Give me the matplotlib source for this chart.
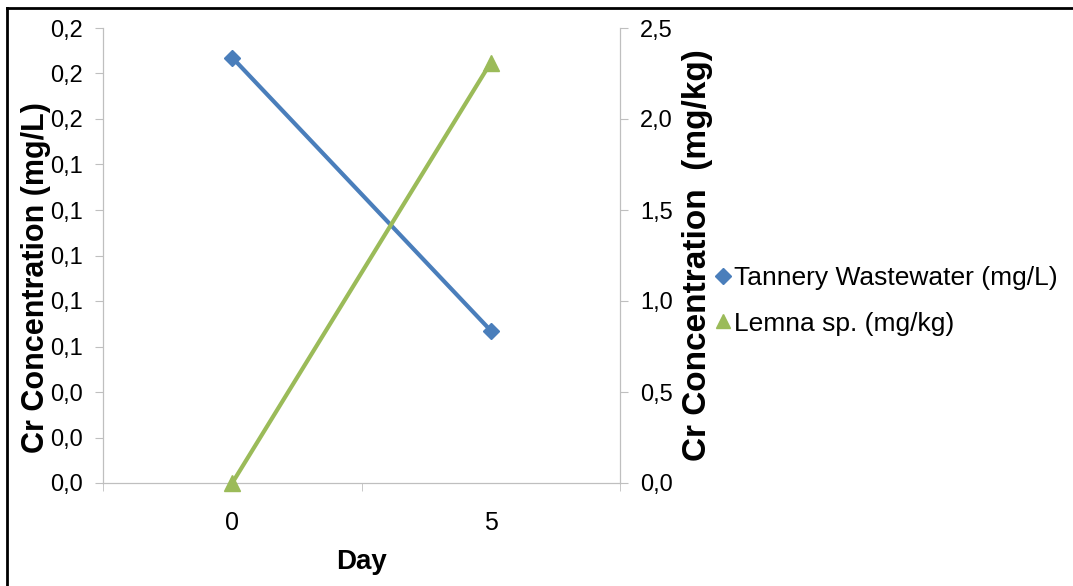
import matplotlib.pyplot as plt
from matplotlib.lines import Line2D
from matplotlib.ticker import FuncFormatter, MultipleLocator

plt.rcParams['font.family'] = ['Liberation Sans', 'DejaVu Sans']

days = [0, 5]
wastewater = [0.187, 0.067]   # mg/L
lemna = [0.0, 2.31]           # mg/kg
labels = ["Tannery Wastewater (mg/L)", "Lemna sp. (mg/kg)"]

blue = "#4a7ebb"
green = "#9bbb59"
grey = "#bfbfbf"

fig = plt.figure(figsize=(10.73, 5.86), dpi=100)
ax = fig.add_axes([103/1073, 1-483/586, (620-103)/1073, (483-28)/586])
ax2 = ax.twinx()

ax.plot(days, wastewater, color=blue, lw=3, marker="D", ms=8, zorder=3, clip_on=False)
ax2.plot(days, lemna, color=green, lw=3, marker="^", ms=11, zorder=3, clip_on=False)

ax.set_xlim(-2.5, 7.5)
ax.set_xticks(days)
ax.set_xticks([-2.5, 2.5, 7.5], minor=True)
ax.tick_params(axis="x", which="major", length=0, labelsize=18, pad=20)
ax.tick_params(axis="x", which="minor", length=6, color=grey)

fmt = FuncFormatter(lambda v, p: f"{v:.1f}".replace(".", ","))

ax.set_ylim(0, 0.2)
ax.yaxis.set_major_locator(MultipleLocator(0.02))
ax.yaxis.set_major_formatter(fmt)
ax.tick_params(axis="y", length=6, color=grey, labelsize=17, pad=8.5)

ax2.set_ylim(0, 2.5)
ax2.yaxis.set_major_locator(MultipleLocator(0.5))
ax2.yaxis.set_major_formatter(fmt)
ax2.tick_params(axis="y", length=6, color=grey, labelsize=17, pad=8.5)

for a in (ax, ax2):
    a.spines["top"].set_visible(False)
    for s in ("left", "right", "bottom"):
        a.spines[s].set_color(grey)

ax.set_xlabel("Day", fontsize=20, fontweight="bold", labelpad=10)
ax.set_ylabel("Cr Concentration (mg/L)", fontsize=22, fontweight="bold")
ax2.set_ylabel("Cr Concentration  (mg/kg)", fontsize=24, fontweight="bold")
ax.yaxis.set_label_coords(-52/517, 0.452)
ax2.yaxis.set_label_coords(1 + 62/517, 0.5)

handles = [Line2D([], [], color=blue, marker="D", ls="none", ms=8),
           Line2D([], [], color=green, marker="^", ls="none", ms=10)]
fig.legend(handles, labels, loc="center left", bbox_to_anchor=(702/1073, 1-301/586),
           frameon=False, fontsize=19, handletextpad=0.0, handlelength=0.8,
           labelspacing=0.8, borderaxespad=0)

# frame lines around the picture
fig.add_artist(Line2D([7/1073, 1], [1-8/586, 1-8/586], color="black", lw=2))
fig.add_artist(Line2D([7/1073, 7/1073], [0, 1-8/586], color="black", lw=2))

fig.savefig("out.png", dpi=100)
